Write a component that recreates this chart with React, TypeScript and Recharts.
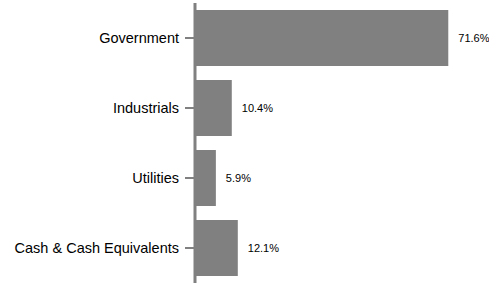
import React from 'react';
import { BarChart, Bar, XAxis, YAxis, LabelList } from 'recharts';

const sectors = ['Government', 'Industrials', 'Utilities', 'Cash & Cash Equivalents'];
const weights = [71.6, 10.4, 5.9, 12.1];

const data = sectors.map((name, i) => ({ name, value: weights[i] }));

const FONT = '"Liberation Sans", Arial, sans-serif';

export default function App() {
  return (
    <div style={{ position: 'absolute', left: 0, top: 0 }}>
      <BarChart
        width={489}
        height={283}
        data={data}
        layout="vertical"
        margin={{ top: 3, right: 11, bottom: 0, left: 0 }}
        barCategoryGap="10%"
      >
        <XAxis type="number" domain={[0, 80]} hide />
        <YAxis
          type="category"
          dataKey="name"
          width={195}
          axisLine={{ stroke: '#808080', strokeWidth: 3 }}
          tickLine={{ stroke: '#808080', strokeWidth: 2 }}
          tickSize={10}
          tickMargin={6}
          tick={{ fill: '#000', fontSize: 14.5, fontFamily: FONT }}
        />
        <Bar dataKey="value" fill="#808080" isAnimationActive={false}>
          <LabelList
            dataKey="value"
            position="right"
            offset={10}
            formatter={(v: number) => `${v}%`}
            style={{ fill: '#000', fontSize: 11, fontFamily: FONT }}
          />
        </Bar>
      </BarChart>
    </div>
  );
}
